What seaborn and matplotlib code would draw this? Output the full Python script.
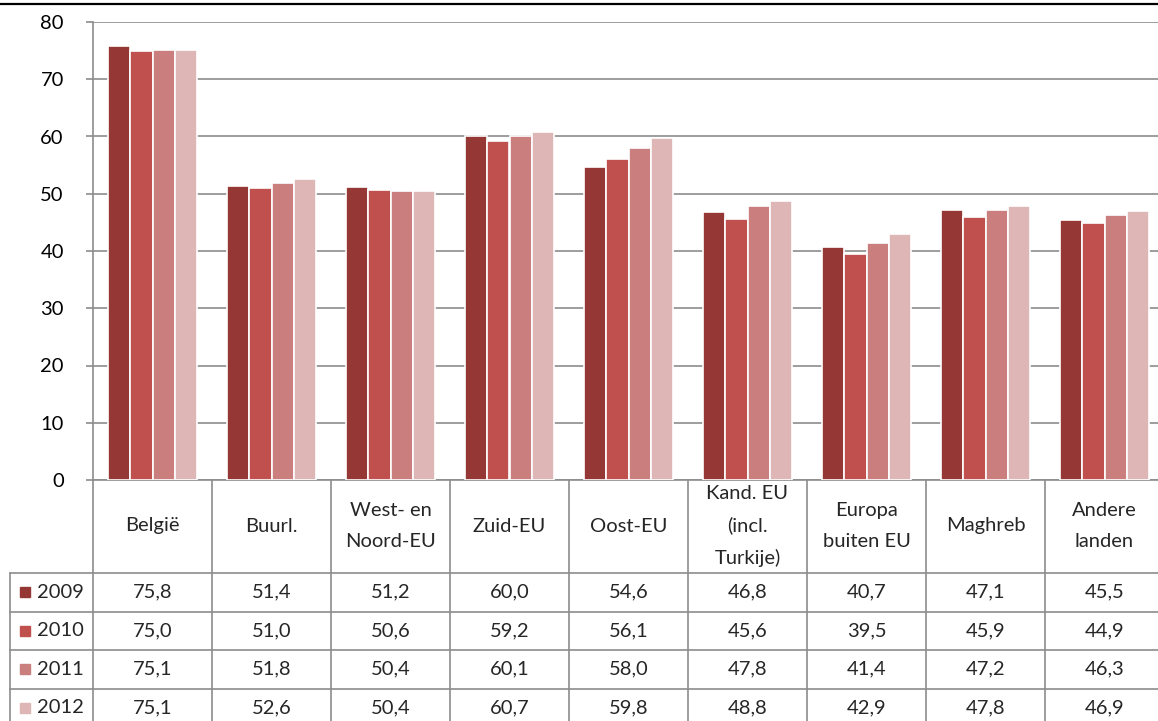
import numpy as np
import pandas as pd
import matplotlib.pyplot as plt
import seaborn as sns

# gegevens
categories = ['België', 'Buurl.', 'West- en\nNoord-EU', 'Zuid-EU', 'Oost-EU',
              'Kand. EU\n(incl.\nTurkije)', 'Europa\nbuiten EU', 'Maghreb', 'Andere\nlanden']
years = ['2009', '2010', '2011', '2012']
v2009 = [75.8, 51.4, 51.2, 60.0, 54.6, 46.8, 40.7, 47.1, 45.5]
v2010 = [75.0, 51.0, 50.6, 59.2, 56.1, 45.6, 39.5, 45.9, 44.9]
v2011 = [75.1, 51.8, 50.4, 60.1, 58.0, 47.8, 41.4, 47.2, 46.3]
v2012 = [75.1, 52.6, 50.4, 60.7, 59.8, 48.8, 42.9, 47.8, 46.9]
yticks = [0, 10, 20, 30, 40, 50, 60, 70, 80]

series = [v2009, v2010, v2011, v2012]
colors = ['#953735', '#C0504D', '#CA7E7D', '#DFB6B6']
grid_col = '#8C8C8C'

df = pd.DataFrame({
    'cat': [c for _ in years for c in categories],
    'year': [y for y in years for _ in categories],
    'val': [v for s in series for v in s],
})

sns.set_theme(style='white')
plt.rcParams['font.family'] = ['Lato', 'DejaVu Sans']

W, H = 1158, 721
fig = plt.figure(figsize=(W / 100, H / 100), dpi=100)

# staafdiagram
ax = fig.add_axes([93 / W, (H - 480) / H, 1071 / W, 458 / H])
sns.barplot(data=df, x='cat', y='val', hue='year', palette=colors, saturation=1,
            width=0.74, edgecolor='white', linewidth=1.2, legend=False, ax=ax, zorder=3)
ax.set_xlim(-0.5, 8.5)
ax.set_ylim(0, 80)
ax.set_yticks(yticks)
ax.set_yticklabels([str(t) for t in yticks], fontsize=14.5, color='black')
ax.set_xticks([])
ax.set_xlabel('')
ax.set_ylabel('')
ax.yaxis.grid(True, color=grid_col, linewidth=1.2, zorder=0)
ax.tick_params(axis='y', length=5, width=1.2, color=grid_col, pad=16, left=True)
for side in ['top', 'right']:
    ax.spines[side].set_visible(False)
for side in ['left', 'bottom']:
    ax.spines[side].set_color(grid_col)
    ax.spines[side].set_linewidth(1.2)

# gegevenstabel
tab = fig.add_axes([0, 0, 1, 1])
tab.set_xlim(0, W)
tab.set_ylim(H, 0)
tab.axis('off')

cw = 1071 / 9
xb = [93 + i * cw for i in range(10)]
rows = [573, 611.5, 650, 688.5, 727]

for x in xb:
    tab.plot([x, x], [480, 727], color=grid_col, lw=1.2)
tab.plot([10, 10], [rows[0], 727], color=grid_col, lw=1.2)
for y in rows[:-1]:
    tab.plot([10, xb[-1]], [y, y], color=grid_col, lw=1.2)

for i, c in enumerate(categories):
    tab.text(xb[i] + cw / 2, 526, c, ha='center', va='center', fontsize=14.5,
             linespacing=2.0)

for r, (yr, s, col) in enumerate(zip(years, series, colors)):
    yc = (rows[r] + rows[r + 1]) / 2
    tab.add_patch(plt.Rectangle((20, yc - 5), 10, 10, color=col))
    tab.text(37, yc, yr, ha='left', va='center', fontsize=14.5)
    for i, v in enumerate(s):
        tab.text(xb[i] + cw / 2, yc, f'{v:.1f}'.replace('.', ','),
                 ha='center', va='center', fontsize=14.5)

# zwarte lijn bovenaan
tab.plot([0, W], [3.5, 3.5], color='black', lw=1.6)

fig.savefig('out.png', dpi=100)
